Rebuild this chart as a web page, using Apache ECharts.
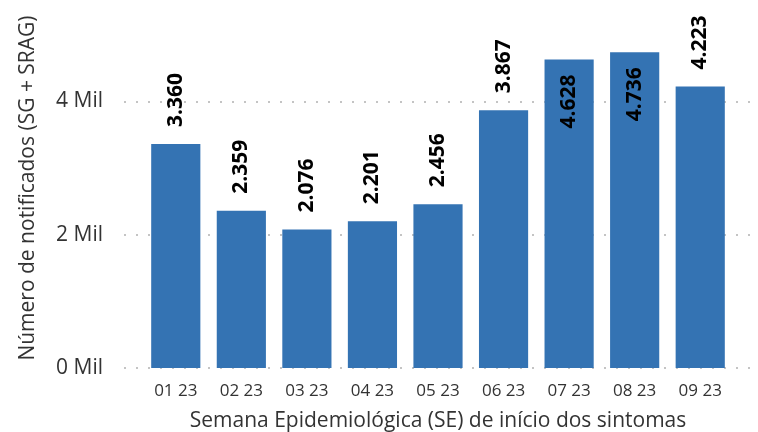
<!DOCTYPE html>
<html>
<head>
<meta charset="utf-8">
<script src="https://cdn.jsdelivr.net/npm/echarts@6/dist/echarts.min.js"></script>
<style>
  html, body { margin: 0; padding: 0; background: #fff; }
  #chart { width: 758px; height: 432px; }
</style>
</head>
<body>
<div id="chart"></div>
<script>
// semanas epidemiologicas e numero de notificados
const semanas = ['01 23', '02 23', '03 23', '04 23', '05 23', '06 23', '07 23', '08 23', '09 23']
const notificados = [3360, 2359, 2076, 2201, 2456, 3867, 4628, 4736, 4223]
// rotulos que ficam dentro da barra
const rotuloDentro = ['07 23', '08 23']

const fonte = '"Open Sans", sans-serif'
const corBarra = '#3473b3'
const corTexto = '#333'

let fmtNum = function (v) {
  return (v / 1000).toFixed(3)
}

let dados = notificados.map(function (v, i) {
  let dentro = rotuloDentro.indexOf(semanas[i]) > -1
  return {
    value: v,
    label: dentro
      ? { position: 'insideTop', align: 'right', distance: 15 }
      : { position: 'top', align: 'left', distance: 17 }
  }
})

let myChart = echarts.init(document.getElementById('chart'))
let option = {
  animation: false,
  textStyle: { fontFamily: fonte },
  grid: [
    // grade so para as linhas pontilhadas e eixo y
    { left: 124, right: 3, top: 8, height: 360, outerBoundsMode: 'none' },
    // grade das barras
    { left: 143, width: 590, top: 0, height: 368, outerBoundsMode: 'none' }
  ],
  xAxis: [
    {
      gridIndex: 0,
      type: 'category',
      data: semanas,
      show: false
    },
    {
      gridIndex: 1,
      type: 'category',
      data: semanas,
      axisLine: { show: false },
      axisTick: { show: false },
      axisLabel: {
        color: corTexto,
        fontSize: 17,
        fontFamily: fonte,
        margin: 15
      },
      name: 'Semana Epidemiológica (SE) de início dos sintomas',
      nameLocation: 'middle',
      nameGap: 43,
      nameTextStyle: {
        color: corTexto,
        fontSize: 21,
        fontFamily: fonte
      }
    }
  ],
  yAxis: [
    {
      gridIndex: 0,
      type: 'value',
      min: 0,
      max: 5400,
      interval: 2000,
      axisLine: { show: false },
      axisTick: { show: false },
      axisLabel: {
        color: corTexto,
        fontSize: 21,
        fontFamily: fonte,
        margin: 21,
        showMaxLabel: false,
        formatter: function (v) {
          return (v / 1000) + ' Mil'
        }
      },
      splitLine: {
        show: true,
        showMaxLine: false,
        lineStyle: { color: '#c4c4c4', width: 2, type: [2, 10] }
      },
      name: 'Número de notificados (SG + SRAG)',
      nameLocation: 'middle',
      nameGap: 85,
      nameTextStyle: {
        color: corTexto,
        fontSize: 21,
        fontFamily: fonte
      }
    },
    {
      gridIndex: 1,
      type: 'value',
      min: 0,
      max: 5520,
      show: false,
      splitLine: { show: false }
    }
  ],
  series: [
    {
      type: 'bar',
      xAxisIndex: 1,
      yAxisIndex: 1,
      data: dados,
      barCategoryGap: '25%',
      itemStyle: { color: corBarra },
      label: {
        show: true,
        rotate: 90,
        verticalAlign: 'middle',
        color: '#000',
        fontSize: 21,
        fontWeight: 'bold',
        fontFamily: fonte,
        formatter: function (p) {
          return fmtNum(p.value)
        }
      }
    }
  ]
}
myChart.setOption(option)
</script>
</body>
</html>
